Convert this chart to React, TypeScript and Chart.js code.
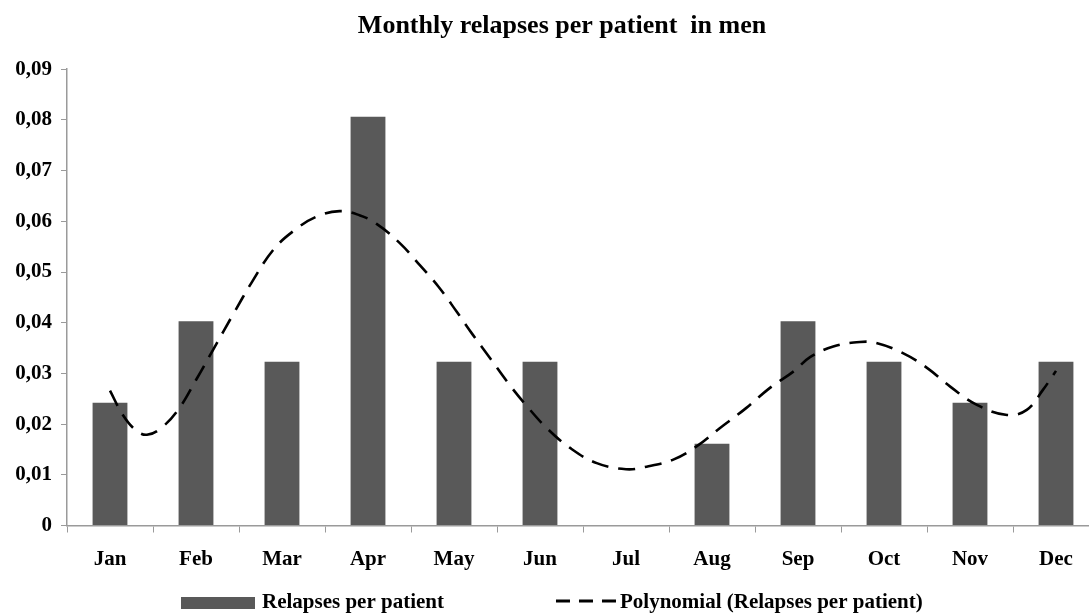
import React, { useEffect, useRef } from "react";
import { Chart, registerables } from "chart.js";

Chart.register(...registerables);

const TITLE = "Monthly relapses per patient  in men";
const months = ["Jan", "Feb", "Mar", "Apr", "May", "Jun", "Jul", "Aug", "Sep", "Oct", "Nov", "Dec"];
const relapses = [0.0242, 0.0403, 0.0323, 0.0806, 0.0323, 0.0323, 0, 0.0161, 0.0403, 0.0323, 0.0242, 0.0323];
const yTickLabels = ["0", "0,01", "0,02", "0,03", "0,04", "0,05", "0,06", "0,07", "0,08", "0,09"];
const barLabel = "Relapses per patient";
const trendLabel = "Polynomial (Relapses per patient)";
// trend curve: position in month index, value
const trendX = [0, 0.15, 0.3, 0.43, 0.6, 0.8, 1.0, 1.2, 1.43, 1.65, 1.9, 2.15, 2.4, 2.67, 2.9, 3.1, 3.37, 3.6, 3.82, 4.03, 4.22, 4.42, 4.63, 4.85, 5.08, 5.35, 5.66, 6.0, 6.24, 6.55, 6.82, 7.09, 7.4, 7.67, 7.95, 8.14, 8.41, 8.72, 8.91, 9.22, 9.5, 9.77, 10.08, 10.43, 10.66, 10.85, 11.0];
const trendY = [0.0266, 0.0218, 0.0188, 0.0179, 0.0193, 0.023, 0.0287, 0.0347, 0.0416, 0.048, 0.0544, 0.0583, 0.0609, 0.062, 0.0612, 0.0595, 0.0557, 0.0514, 0.0471, 0.0422, 0.0376, 0.033, 0.0281, 0.0235, 0.0192, 0.0153, 0.0123, 0.0111, 0.0116, 0.013, 0.0156, 0.0192, 0.0232, 0.0271, 0.0304, 0.0332, 0.0353, 0.0362, 0.036, 0.034, 0.0311, 0.0274, 0.0238, 0.0218, 0.0228, 0.0268, 0.0305];

const FONT = "'Liberation Serif', 'Times New Roman', serif";
const BAR_COLOR = "#595959";
const AXIS_COLOR = "#9a9a9a";

const titleShiftPlugin = {
  id: "titleShift",
  afterLayout(chart: any) {
    const t = chart.titleBlock;
    if (t) {
      t.left = chart.chartArea.left - 42;
      t.right = chart.chartArea.right;
    }
  },
};

const legendPlugin = {
  id: "customLegend",
  afterDraw(chart: any) {
    const ctx = chart.ctx;
    const left = chart.chartArea.left;
    const y = 603;
    ctx.save();
    ctx.font = `bold 21px ${FONT}`;
    ctx.textBaseline = "middle";
    ctx.textAlign = "left";
    let x = left + 114;
    ctx.fillStyle = chart.data.datasets[0].backgroundColor;
    ctx.fillRect(x, y - 6, 74, 12);
    x += 81;
    ctx.fillStyle = "#000";
    const t1 = chart.data.datasets[0].label;
    ctx.fillText(t1, x, y);
    x += ctx.measureText(t1).width + 112;
    ctx.strokeStyle = "#000";
    ctx.lineWidth = 3;
    ctx.setLineDash([14, 9]);
    ctx.beginPath();
    ctx.moveTo(x, y - 2);
    ctx.lineTo(x + 60, y - 2);
    ctx.stroke();
    ctx.setLineDash([]);
    x += 64;
    ctx.fillText(chart.data.datasets[1].label, x, y);
    ctx.restore();
  },
};

export default function App() {
  const ref = useRef<HTMLCanvasElement | null>(null);
  useEffect(() => {
    const canvas = ref.current;
    if (!canvas) return;
    const chart = new Chart(canvas, {
      type: "bar",
      data: {
        labels: months,
        datasets: [
          {
            type: "bar",
            label: barLabel,
            data: relapses,
            backgroundColor: BAR_COLOR,
            borderWidth: 0,
            grouped: false,
            categoryPercentage: 1,
            barPercentage: 0.405,
            xAxisID: "x",
            yAxisID: "y",
            order: 1,
          },
          {
            type: "line",
            label: trendLabel,
            data: trendX.map((m, i) => ({ x: m, y: trendY[i] })),
            borderColor: "#000",
            borderWidth: 2.6,
            borderDash: [17, 10],
            pointRadius: 0,
            tension: 0.4,
            fill: false,
            xAxisID: "xT",
            yAxisID: "y",
            order: 0,
          } as any,
        ],
      },
      options: {
        animation: false,
        responsive: false,
        devicePixelRatio: 1,
        layout: { padding: { left: 0, right: 25, top: 0, bottom: 39.5 } },
        plugins: {
          legend: { display: false },
          tooltip: { enabled: false },
          title: {
            display: true,
            text: TITLE,
            color: "#000",
            font: { family: FONT, size: 26, weight: "bold" },
            padding: { top: 11, bottom: 27 },
          },
        },
        scales: {
          x: {
            type: "category",
            offset: true,
            grid: {
              display: true,
              offset: true,
              drawOnChartArea: false,
              drawTicks: true,
              tickLength: 7,
              color: AXIS_COLOR,
            },
            border: { display: true, color: AXIS_COLOR, width: 1.5 },
            ticks: {
              color: "#000",
              font: { family: FONT, size: 21, weight: "bold" },
              padding: 14,
              maxRotation: 0,
              autoSkip: false,
            },
            afterFit: (scale: any) => {
              scale.height = 50;
            },
          },
          xT: {
            type: "linear",
            axis: "x",
            display: false,
            offset: false,
            grid: { offset: false },
            min: -0.5,
            max: 11.5,
          },
          y: {
            type: "linear",
            min: 0,
            max: 0.09,
            grid: {
              display: true,
              drawOnChartArea: false,
              drawTicks: true,
              tickLength: 6,
              color: AXIS_COLOR,
            },
            border: { display: true, color: AXIS_COLOR, width: 1.5 },
            ticks: {
              stepSize: 0.01,
              color: "#000",
              font: { family: FONT, size: 21, weight: "bold" },
              padding: 9,
              callback: (_v: any, i: number) => yTickLabels[i],
            },
            afterFit: (scale: any) => {
              scale.width = 67;
            },
          },
        },
      },
      plugins: [titleShiftPlugin, legendPlugin],
    });
    return () => chart.destroy();
  }, []);

  return (
    <div style={{ position: "fixed", left: 0, top: 0, width: 1089, height: 615, overflow: "hidden", background: "#fff" }}>
      <canvas ref={ref} width={1124} height={615} style={{ width: 1124, height: 615, display: "block" }} />
    </div>
  );
}
